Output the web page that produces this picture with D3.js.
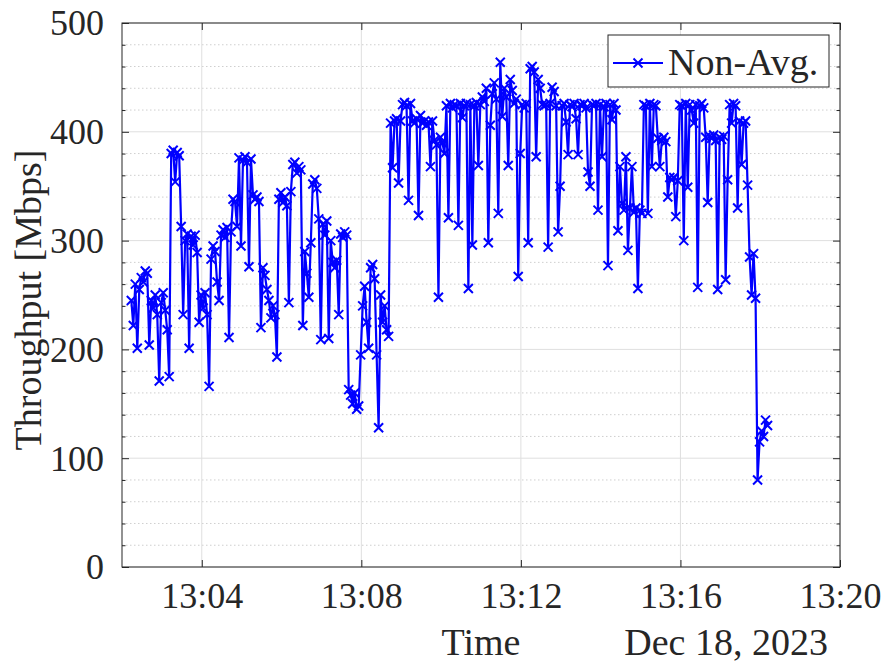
<!DOCTYPE html>
<html lang="en">

<head>
    <meta charset="UTF-8">
    <title>Throughput - Non-Avg.</title>
    <script src="https://d3js.org/d3.v7.min.js"></script>
    <style>
        body {
            margin: 0;
            background: #fff;
        }

        svg {
            display: block;
            font-family: "Liberation Serif", "Times New Roman", serif;
        }

        .tick-label {
            font-size: 36px;
            fill: #262626;
        }

        .axis-label {
            font-size: 38px;
            fill: #262626;
        }
    </style>
</head>

<body>
    <div id="chart"></div>

    <script>
        // samples, one every few seconds, starting at startTime
        const startTime = "2023-12-18 13:02:14";
        const sampleStepSec = 3;
        const throughput = [
            245, 222, 260, 201, 255, 266, 262, 272, 270, 204,
            245, 238, 250, 232, 171, 243, 252, 236, 218, 175,
            380, 383, 354, 381, 378, 313, 232, 300, 306, 201,
            304, 296, 305, 289, 225, 250, 238, 252, 232, 166,
            283, 295, 290, 262, 245, 305, 310, 303, 312, 211,
            308, 338, 336, 313, 376, 295, 374, 377, 372, 276,
            375, 342, 338, 340, 336, 220, 275, 268, 255, 245,
            229, 240, 232, 193, 338, 344, 335, 340, 332, 243,
            345, 370, 372, 362, 368, 365, 222, 290, 270, 248,
            298, 352, 356, 348, 320, 209, 315, 305, 318, 210,
            300, 280, 275, 282, 232, 306, 303, 308, 305, 163,
            158, 150, 160, 145, 148, 195, 240, 258, 225, 201,
            275, 278, 265, 195, 128, 250, 225, 240, 218, 212,
            408, 367, 410, 412, 353, 410, 425, 427, 424, 337,
            426, 410, 408, 412, 323, 415, 408, 410, 406, 409,
            368, 410, 392, 388, 248, 395, 390, 380, 424, 321,
            426, 422, 425, 424, 314, 426, 413, 424, 426, 256,
            425, 296, 424, 427, 369, 425, 432, 428, 440, 298,
            406, 435, 445, 430, 325, 464, 414, 440, 432, 369,
            448, 438, 426, 430, 267, 380, 425, 422, 426, 298,
            458, 460, 455, 377, 448, 440, 425, 424, 425, 294,
            426, 441, 437, 424, 308, 350, 424, 426, 409, 379,
            425, 423, 426, 412, 379, 425, 424, 426, 422, 363,
            350, 425, 424, 426, 328, 425, 377, 423, 426, 277,
            425, 411, 426, 420, 309, 368, 334, 328, 377, 291,
            330, 368, 326, 330, 256, 328, 325, 425, 424, 325,
            426, 368, 425, 424, 394, 368, 392, 395, 391, 340,
            358, 356, 358, 322, 355, 425, 424, 300, 426, 349,
            425, 420, 408, 425, 257, 424, 426, 422, 395, 335,
            396, 394, 397, 392, 255, 395, 393, 396, 264, 356,
            425, 408, 426, 424, 330, 410, 370, 408, 410, 351,
            285, 250, 288, 247, 80, 115, 125, 120, 135, 130
        ];

        const xStart = "2023-12-18 13:02";
        const xEnd = "2023-12-18 13:20";
        const xTickLabels = ["13:04", "13:08", "13:12", "13:16", "13:20"];
        const yTicks = [0, 100, 200, 300, 400, 500];
        const yMinorTicks = [20, 40, 60, 80, 120, 140, 160, 180, 220, 240, 260, 280,
            320, 340, 360, 380, 420, 440, 460, 480];

        const seriesName = "Non-Avg.";
        const xLabel = "Time";
        const dateLabel = "Dec 18, 2023";
        const yLabel = "Throughput [Mbps]";

        const width = 885;
        const height = 662;
        const marginTop = 23;
        const marginRight = 45;
        const marginBottom = 95;
        const marginLeft = 122;

        const blue = "#0000ff";
        const axisColor = "#262626";

        const parseSec = d3.timeParse("%Y-%m-%d %H:%M:%S");
        const parseMin = d3.timeParse("%Y-%m-%d %H:%M");
        const t0 = parseSec(startTime);
        const data = throughput.map((v, i) => ({
            t: d3.timeSecond.offset(t0, i * sampleStepSec),
            v
        }));
        const xTicks = xTickLabels.map(s => parseMin("2023-12-18 " + s));

        const svg = d3.select("#chart")
            .append("svg")
            .attr("width", width)
            .attr("height", height)
            .attr("viewBox", [0, 0, width, height]);

        const x = d3.scaleTime()
            .domain([parseMin(xStart), parseMin(xEnd)])
            .range([marginLeft, width - marginRight]);

        const y = d3.scaleLinear()
            .domain([0, 500])
            .range([height - marginBottom, marginTop]);

        const x0 = x.range()[0], x1 = x.range()[1];
        const y0 = y.range()[0], y1 = y.range()[1];

        // grid
        svg.append("g")
            .selectAll("line")
            .data(yMinorTicks)
            .join("line")
            .attr("x1", x0).attr("x2", x1)
            .attr("y1", d => y(d)).attr("y2", d => y(d))
            .attr("stroke", "#cfcfcf")
            .attr("stroke-width", 1)
            .attr("stroke-dasharray", "1.5,2.5");

        svg.append("g")
            .selectAll("line")
            .data(yTicks)
            .join("line")
            .attr("x1", x0).attr("x2", x1)
            .attr("y1", d => y(d)).attr("y2", d => y(d))
            .attr("stroke", "#dfdfdf")
            .attr("stroke-width", 1);

        svg.append("g")
            .selectAll("line")
            .data(xTicks)
            .join("line")
            .attr("x1", d => x(d)).attr("x2", d => x(d))
            .attr("y1", y0).attr("y2", y1)
            .attr("stroke", "#dfdfdf")
            .attr("stroke-width", 1);

        // series
        const line = d3.line()
            .x(d => x(d.t))
            .y(d => y(d.v));

        svg.append("path")
            .datum(data)
            .attr("fill", "none")
            .attr("stroke", blue)
            .attr("stroke-width", 2.2)
            .attr("stroke-linejoin", "round")
            .attr("d", line);

        const cross = "M-4.5,-4.5L4.5,4.5M-4.5,4.5L4.5,-4.5";

        svg.append("g")
            .selectAll("path")
            .data(data)
            .join("path")
            .attr("transform", d => `translate(${x(d.t)},${y(d.v)})`)
            .attr("d", cross)
            .attr("stroke", blue)
            .attr("stroke-width", 2)
            .attr("fill", "none");

        // axes box and ticks
        svg.append("rect")
            .attr("x", x0).attr("y", y1)
            .attr("width", x1 - x0).attr("height", y0 - y1)
            .attr("fill", "none")
            .attr("stroke", axisColor)
            .attr("stroke-width", 1);

        const plain = g => g
            .attr("font-family", null)
            .attr("font-size", null)
            .call(g => g.select(".domain").remove())
            .call(g => g.selectAll(".tick line").attr("stroke", axisColor));

        svg.append("g")
            .attr("transform", `translate(0,${y0})`)
            .call(d3.axisBottom(x).tickValues(xTicks).tickSize(-7).tickFormat(d3.timeFormat("%H:%M")))
            .call(plain)
            .call(g => g.selectAll(".tick text")
                .attr("class", "tick-label")
                .attr("y", 41)
                .attr("dy", null));

        svg.append("g")
            .attr("transform", `translate(0,${y1})`)
            .call(d3.axisTop(x).tickValues(xTicks).tickSize(-7).tickFormat(""))
            .call(plain);

        svg.append("g")
            .attr("transform", `translate(${x0},0)`)
            .call(d3.axisLeft(y).tickValues(yTicks).tickSize(-7).tickPadding(18))
            .call(plain)
            .call(g => g.selectAll(".tick text")
                .attr("class", "tick-label")
                .attr("dy", "0.33em"));

        svg.append("g")
            .attr("transform", `translate(${x0},0)`)
            .call(d3.axisLeft(y).tickValues(yMinorTicks).tickSize(-3.5).tickFormat(""))
            .call(plain);

        svg.append("g")
            .attr("transform", `translate(${x1},0)`)
            .call(d3.axisRight(y).tickValues(yTicks).tickSize(-7).tickFormat(""))
            .call(plain);

        svg.append("g")
            .attr("transform", `translate(${x1},0)`)
            .call(d3.axisRight(y).tickValues(yMinorTicks).tickSize(-3.5).tickFormat(""))
            .call(plain);

        // axis labels
        svg.append("text")
            .attr("x", (x0 + x1) / 2)
            .attr("y", 655)
            .attr("text-anchor", "middle")
            .attr("class", "axis-label")
            .text(xLabel);

        svg.append("text")
            .attr("x", x1 - 12)
            .attr("y", 655)
            .attr("text-anchor", "end")
            .attr("class", "axis-label")
            .text(dateLabel);

        svg.append("text")
            .attr("transform", `translate(41,${(y0 + y1) / 2 + 5}) rotate(-90)`)
            .attr("text-anchor", "middle")
            .attr("class", "axis-label")
            .text(yLabel);

        // legend
        const legend = svg.append("g")
            .attr("transform", "translate(608,35)");

        legend.append("rect")
            .attr("width", 221)
            .attr("height", 52)
            .attr("fill", "#fff")
            .attr("stroke", axisColor)
            .attr("stroke-width", 1);

        legend.append("line")
            .attr("x1", 5).attr("x2", 55)
            .attr("y1", 28).attr("y2", 28)
            .attr("stroke", blue)
            .attr("stroke-width", 2.2);

        legend.append("path")
            .attr("transform", "translate(30,28)")
            .attr("d", cross)
            .attr("stroke", blue)
            .attr("stroke-width", 2);

        legend.append("text")
            .attr("x", 60)
            .attr("y", 40)
            .attr("class", "axis-label")
            .text(seriesName);
    </script>
</body>

</html>
